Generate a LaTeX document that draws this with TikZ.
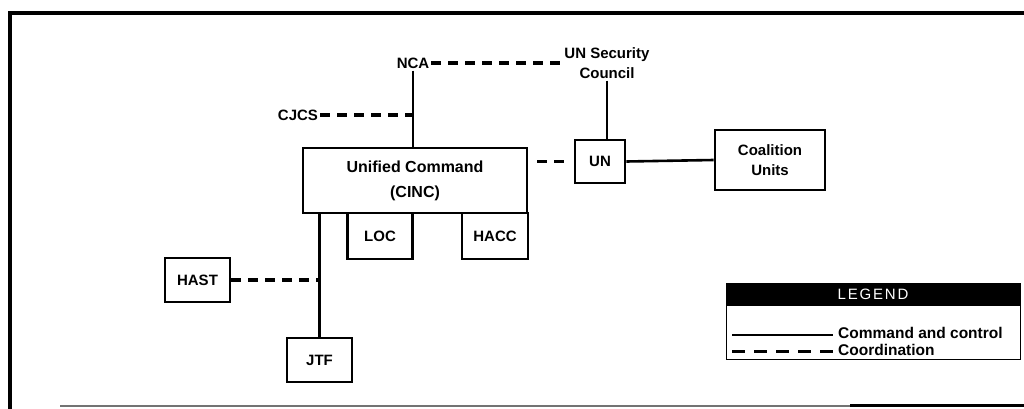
\documentclass[tikz,border=0pt]{standalone}
\usepackage{fontspec}
\setmainfont{Liberation Sans}
\begin{document}
\begin{tikzpicture}[x=1pt,y=-1pt,
  box/.style={draw, line width=2.6pt, rectangle, inner sep=0pt, align=center,
    font=\bfseries\fontsize{15}{20}\selectfont},
  lbl/.style={inner sep=2pt, align=center, font=\bfseries\fontsize{15}{20}\selectfont},
  cc/.style={line width=2.6pt},
  coord/.style={line width=3.5pt, dash pattern=on 10pt off 7pt},
  legtxt/.style={anchor=west, inner sep=0pt, font=\bfseries\fontsize{15.5}{18}\selectfont}]
\useasboundingbox (0,0) rectangle (1024,409);
% frame
\draw[line width=4pt] (10,409) -- (10,13) -- (1024,13);
\draw[black!55, line width=1.5pt] (60,406) -- (1024,406);
\draw[line width=3pt] (850,405) -- (1024,405);
% nodes
\node[lbl] (nca) at (413,63) {NCA};
\node[lbl] (unsc) at (607,63) {UN Security\\Council};
\node[lbl] (cjcs) at (298,115) {CJCS};
\node[box, minimum width=224pt, minimum height=65pt, font=\bfseries\fontsize{16}{25}\selectfont] (uc) at (415,180.5) {Unified Command\\(CINC)};
\node[box, minimum width=65pt, minimum height=46pt] (loc) at (380,236) {LOC};
\node[box, minimum width=66pt, minimum height=46pt] (hacc) at (495,236) {HACC};
\node[box, minimum width=50pt, minimum height=43pt] (un) at (600,161.5) {UN};
\node[box, minimum width=110pt, minimum height=60pt] (coal) at (770,160) {Coalition\\Units};
\node[box, minimum width=65pt, minimum height=44pt] (hast) at (197.5,280) {HAST};
\node[box, minimum width=65pt, minimum height=44pt] (jtf) at (319.5,360) {JTF};
% connectors
\draw[coord] (nca.east) -- (unsc.west);
\draw[cc] (nca.south) -- (nca.south |- uc.north);
\draw[coord] (cjcs.east) -- (cjcs.east -| nca.south);
\draw[cc] (unsc.south) -- (unsc.south |- un.north);
\draw[coord, shorten <=9pt, shorten >=9pt] (uc.east |- un.west) -- (un.west);
\draw[cc] (un.east) -- (coal.west);
\draw[cc] (jtf.north |- uc.south) -- (jtf.north);
\draw[coord] (hast.east) -- (hast.east -| jtf.north);
% legend
\node[fill=black, draw=black, minimum width=294pt, minimum height=22pt, inner sep=0pt,
  text=white, font=\fontsize{15}{18}\selectfont\addfontfeature{LetterSpace=12}] (leghead) at (873,294) {LEGEND};
\node[draw, line width=1pt, minimum width=294pt, minimum height=54pt, inner sep=0pt, anchor=north] (legbody) at (leghead.south) {};
\coordinate (s1) at (732,335);
\coordinate (s2) at (833,335);
\coordinate (d1) at (732,351);
\coordinate (d2) at (833,351);
\draw[line width=2.2pt] (s1) -- (s2);
\draw[line width=3pt, dash pattern=on 13pt off 9pt] (d1) -- (d2);
\node[legtxt] (legc) at (838,333) {Command and control};
\node[legtxt] (legd) at (838,350) {Coordination};
\end{tikzpicture}
\end{document}
